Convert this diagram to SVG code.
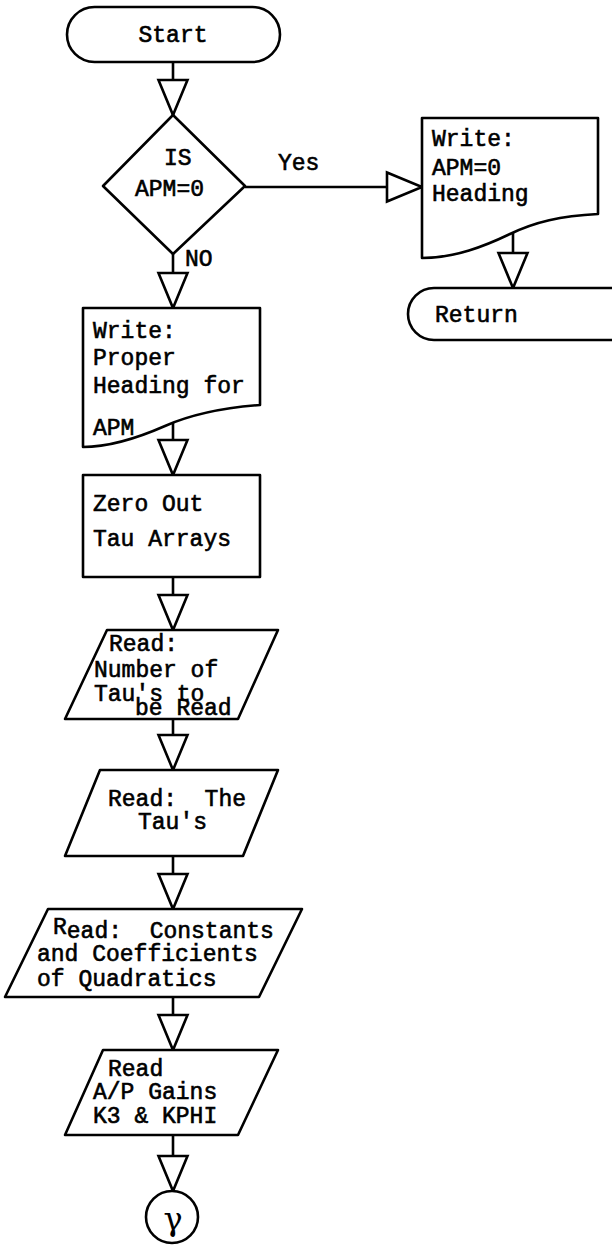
<svg xmlns="http://www.w3.org/2000/svg" width="612" height="1245" viewBox="0 0 612 1245">
<style>
.s{fill:#fff;stroke:#000;stroke-width:2.6;stroke-linejoin:round}
.c{fill:none;stroke:#000;stroke-width:2.6}
.t{font-family:"Liberation Mono","Courier New",monospace;font-size:23px;fill:#000;stroke:#000;stroke-width:0.6;white-space:pre}
</style>
<defs>
<marker id="tri" viewBox="0 0 35 29" refX="35" refY="14.5" markerWidth="35" markerHeight="29" markerUnits="userSpaceOnUse" orient="auto" overflow="visible">
<path d="M0,0 L35,14.5 L0,29 Z" fill="#fff" stroke="#000" stroke-width="2.6" stroke-linejoin="miter"/>
</marker>
</defs>
<rect width="612" height="1245" fill="#fff"/>
<g id="connectors">
<line class="c" x1="173" y1="62" x2="173" y2="115" marker-end="url(#tri)"/>
<line class="c" x1="173" y1="254" x2="173" y2="308" marker-end="url(#tri)"/>
<line class="c" x1="245" y1="187" x2="422" y2="187" marker-end="url(#tri)"/>
<line class="c" x1="513" y1="232" x2="513" y2="288" marker-end="url(#tri)"/>
<line class="c" x1="173" y1="423" x2="173" y2="475" marker-end="url(#tri)"/>
<line class="c" x1="173" y1="577" x2="173" y2="630" marker-end="url(#tri)"/>
<line class="c" x1="173" y1="719" x2="173" y2="770" marker-end="url(#tri)"/>
<line class="c" x1="173" y1="856" x2="173" y2="909" marker-end="url(#tri)"/>
<line class="c" x1="173" y1="997" x2="173" y2="1050" marker-end="url(#tri)"/>
<line class="c" x1="173" y1="1135" x2="173" y2="1191" marker-end="url(#tri)"/>
<text class="t" x="278" y="170">Yes</text>
<text class="t" x="185" y="266">NO</text>
</g>
<g id="start">
<rect class="s" x="67" y="7" width="213" height="55" rx="27.5" ry="27.5"/>
<text class="t" x="173" y="42" text-anchor="middle">Start</text>
</g>
<g id="decision">
<polygon class="s" points="173,115 245,186 173,254 103,186"/>
<text class="t" x="164" y="165">IS</text>
<text class="t" x="135" y="196">APM=0</text>
</g>
<g id="write-apm0">
<path class="s" d="M422 118 H598 V214 C560 216,535 222,510 234 S455 258,422 258 Z"/>
<text class="t" x="432" y="146">Write:</text>
<text class="t" x="432" y="175">APM=0</text>
<text class="t" x="432" y="201">Heading</text>
</g>
<g id="return">
<rect class="s" x="408" y="288" width="232" height="52" rx="26" ry="26"/>
<text class="t" x="435" y="322">Return</text>
</g>
<g id="write-heading">
<path class="s" d="M83 308 H260 V405 C220 408,190 415,165 426 S110 447,83 447 Z"/>
<text class="t" x="93" y="338">Write:</text>
<text class="t" x="93" y="365">Proper</text>
<text class="t" x="93" y="393">Heading for</text>
<text class="t" x="93" y="435">APM</text>
</g>
<g id="zero-out">
<rect class="s" x="83" y="475" width="177" height="102"/>
<text class="t" x="93" y="511">Zero Out</text>
<text class="t" x="93" y="546">Tau Arrays</text>
</g>
<g id="read-number">
<polygon class="s" points="107,630 278,630 238,719 65,719"/>
<text class="t" x="109" y="651">Read:</text>
<text class="t" x="94" y="677">Number of</text>
<text class="t" x="94" y="701">Tau's to</text>
<text class="t" x="135" y="715">be Read</text>
</g>
<g id="read-taus">
<polygon class="s" points="100,770 278,770 243,856 65,856"/>
<text class="t" x="108" y="806" xml:space="preserve">Read:  The</text>
<text class="t" x="138" y="829">Tau's</text>
</g>
<g id="read-constants">
<polygon class="s" points="48,909 302,909 259,997 5,997"/>
<text class="t" x="53" y="934" xml:space="preserve">R<tspan dy="4">ead:  Constants</tspan></text>
<text class="t" x="37" y="961">and Coefficients</text>
<text class="t" x="37" y="986">of Quadratics</text>
</g>
<g id="read-gains">
<polygon class="s" points="103,1050 278,1050 238,1135 65,1135"/>
<text class="t" x="108" y="1076">Read</text>
<text class="t" x="93" y="1099">A/P Gains</text>
<text class="t" x="93" y="1123">K3 &amp; KPHI</text>
</g>
<g id="connector-gamma">
<circle class="s" cx="172" cy="1217" r="26"/>
<text x="173" y="1230" text-anchor="middle" font-family="DejaVu Serif, serif" font-size="32" fill="#000">γ</text>
</g>
</svg>
